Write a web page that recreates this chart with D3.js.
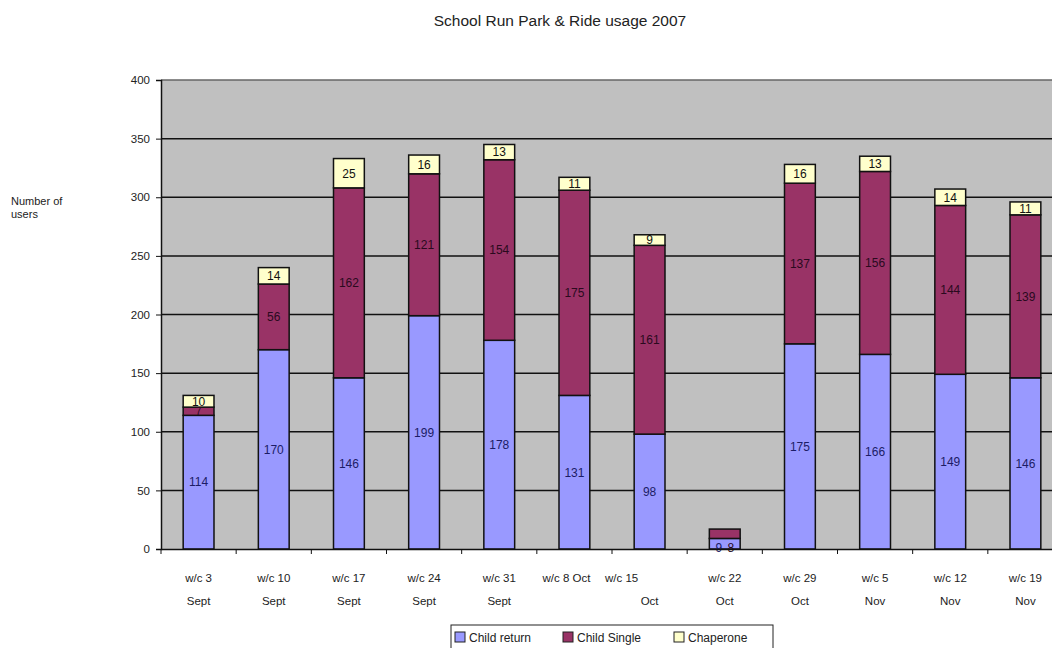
<!DOCTYPE html>
<html>
<head>
<meta charset="utf-8">
<script src="https://cdn.jsdelivr.net/npm/d3@7"></script>
<style>
  body { margin: 0; background: #fff; }
  svg { display: block; font-family: Arial, "Liberation Sans", sans-serif; }
</style>
</head>
<body>
<div id="chart"></div>
<script>
var weeks = [
  ['w/c 3', 'Sept'], ['w/c 10', 'Sept'], ['w/c 17', 'Sept'], ['w/c 24', 'Sept'],
  ['w/c 31', 'Sept'], ['w/c 8 Oct'], ['w/c 15', 'Oct'], ['w/c 22', 'Oct'],
  ['w/c 29', 'Oct'], ['w/c 5', 'Nov'], ['w/c 12', 'Nov'], ['w/c 19', 'Nov']
];
var childReturn = [114, 170, 146, 199, 178, 131, 98, 9, 175, 166, 149, 146];
var childSingle = [7, 56, 162, 121, 154, 175, 161, 8, 137, 156, 144, 139];
var chaperone = [10, 14, 25, 16, 13, 11, 9, 0, 16, 13, 14, 11];
var seriesNames = ['Child return', 'Child Single', 'Chaperone'];
var yTicks = [0, 50, 100, 150, 200, 250, 300, 350, 400];

var colors = ['#9999ff', '#993366', '#ffffcc'];
var labelColors = ['#1c1c66', '#2a0a1e', '#111'];

var width = 1052, height = 648;
var plotLeft = 161, plotRight = 1063, plotTop = 80, plotBottom = 549;

var svg = d3.select('#chart').append('svg')
  .attr('width', width)
  .attr('height', height);

var rows = weeks.map(function(w, i) {
  return { key: i, 'Child return': childReturn[i], 'Child Single': childSingle[i], 'Chaperone': chaperone[i] };
});

var x = d3.scaleBand().domain(d3.range(weeks.length)).range([plotLeft, plotRight]).paddingInner(0.59).paddingOuter(0.295);
var xTicks = d3.scaleBand().domain(d3.range(weeks.length)).range([plotLeft, plotRight]);
var y = d3.scaleLinear().domain([0, 400]).range([plotBottom, plotTop]);

// plot background
svg.append('rect')
  .attr('x', plotLeft).attr('y', plotTop)
  .attr('width', plotRight - plotLeft).attr('height', plotBottom - plotTop)
  .attr('fill', '#c0c0c0');

// gridlines
svg.append('g').selectAll('line')
  .data(yTicks.filter(function(d) { return d > 0; }))
  .enter().append('line')
  .attr('x1', plotLeft).attr('x2', plotRight)
  .attr('y1', function(d) { return y(d); })
  .attr('y2', function(d) { return y(d); })
  .attr('stroke', function(d) { return d == 400 ? '#666' : '#111'; })
  .attr('stroke-width', 1.5);

var stack = d3.stack().keys(seriesNames);
var layers = stack(rows);

var layer = svg.selectAll('g.layer')
  .data(layers)
  .enter().append('g')
  .attr('class', 'layer')
  .attr('fill', function(d, i) { return colors[i]; });

layer.selectAll('rect')
  .data(function(d) { return d.filter(function(p) { return p[1] > p[0]; }); })
  .enter().append('rect')
  .attr('x', function(d) { return x(d.data.key); })
  .attr('y', function(d) { return y(d[1]); })
  .attr('width', x.bandwidth())
  .attr('height', function(d) { return y(d[0]) - y(d[1]); })
  .attr('stroke', '#111')
  .attr('stroke-width', 1.5);

// value labels; tiny segments get a smaller font, and when two tiny
// segments sit together at the bottom their labels go side by side
function segHeight(d) { return y(d[0]) - y(d[1]); }
function isPair(k) {
  return segHeight(layers[0][k]) < 14 && segHeight(layers[1][k]) < 14 && layers[1][k][1] < 30;
}
layers.forEach(function(l, s) {
  svg.append('g').selectAll('text')
    .data(l.filter(function(d) { return d[1] > d[0]; }))
    .enter().append('text')
    .attr('x', function(d) {
      var cx = x(d.data.key) + x.bandwidth() / 2;
      if (isPair(d.data.key)) return cx + (s == 0 ? -6 : 6);
      return cx;
    })
    .attr('y', function(d) {
      if (isPair(d.data.key)) return y(0) - 1;
      return (y(d[0]) + y(d[1])) / 2;
    })
    .attr('dy', '0.36em')
    .attr('text-anchor', 'middle')
    .attr('font-size', function(d) { return segHeight(d) < 9 ? 10 : 12; })
    .attr('fill', labelColors[s])
    .text(function(d) { return d[1] - d[0]; });
});

// y axis
var yAxis = d3.axisLeft(y).tickValues(yTicks).tickSize(5).tickPadding(6);
var gy = svg.append('g').attr('transform', 'translate(' + plotLeft + ',0)').call(yAxis);
gy.select('.domain').attr('stroke', '#111').attr('stroke-width', 1.5);
gy.selectAll('.tick line').attr('stroke', '#111');
gy.selectAll('text').attr('font-size', 11.5).attr('fill', '#222').attr('font-family', 'Arial, "Liberation Sans", sans-serif');

// x axis
var xAxis = d3.axisBottom(xTicks).tickSize(0).tickFormat('');
var gx = svg.append('g').attr('transform', 'translate(0,' + plotBottom + ')').call(xAxis);
gx.select('.domain').attr('stroke', '#111').attr('stroke-width', 1.5);
svg.append('g').selectAll('line')
  .data(d3.range(weeks.length + 1))
  .enter().append('line')
  .attr('x1', function(d) { return plotLeft + d * xTicks.step(); })
  .attr('x2', function(d) { return plotLeft + d * xTicks.step(); })
  .attr('y1', plotBottom).attr('y2', plotBottom + 5)
  .attr('stroke', '#111');

var labelShift = [0, 0, 0, 0, 0, -8, -28, 0, 0, 0, 0, 0];
var xl = svg.append('g');
weeks.forEach(function(w, i) {
  var cx = xTicks(i) + xTicks.bandwidth() / 2;
  var t = xl.append('text')
    .attr('text-anchor', 'middle')
    .attr('font-size', 11.5)
    .attr('fill', '#222');
  w.forEach(function(line, j) {
    t.append('tspan')
      .attr('x', cx + (j == 0 ? labelShift[i] : 0))
      .attr('y', 582 + j * 23)
      .text(line);
  });
});

// title
svg.append('text')
  .attr('x', 560).attr('y', 26)
  .attr('text-anchor', 'middle')
  .attr('font-size', 15.5)
  .attr('fill', '#222')
  .text('School Run Park & Ride usage 2007');

// y label
svg.append('text')
  .attr('x', 11).attr('y', 205)
  .attr('font-size', 11)
  .attr('fill', '#222')
  .call(function(t) {
    t.append('tspan').attr('x', 11).attr('dy', 0).text('Number of');
    t.append('tspan').attr('x', 11).attr('dy', 13).text('users');
  });

// legend
var legend = svg.append('g');
legend.append('rect')
  .attr('x', 451).attr('y', 625)
  .attr('width', 322).attr('height', 30)
  .attr('fill', '#fff').attr('stroke', '#222');
var legendX = [455, 563, 674];
seriesNames.forEach(function(name, i) {
  legend.append('rect')
    .attr('x', legendX[i]).attr('y', 632)
    .attr('width', 10).attr('height', 10)
    .attr('fill', colors[i]).attr('stroke', '#222');
  legend.append('text')
    .attr('x', legendX[i] + 14).attr('y', 642)
    .attr('font-size', 12)
    .attr('fill', '#222')
    .text(name);
});
</script>
</body>
</html>
